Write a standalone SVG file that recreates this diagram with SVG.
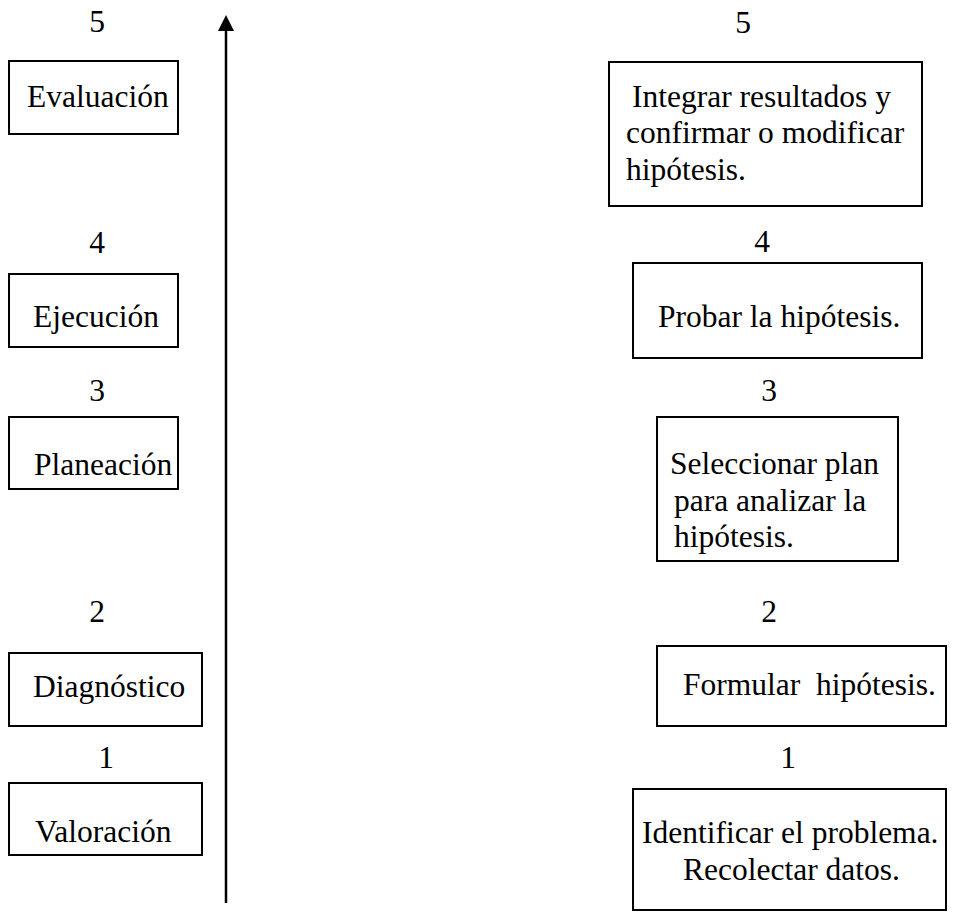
<svg xmlns="http://www.w3.org/2000/svg" width="960" height="923" viewBox="0 0 960 923">
<style>
text{font-family:"Liberation Serif","Times New Roman",serif;font-size:31.5px;fill:#000}
.n{text-anchor:middle}
rect{fill:#fff;stroke:#000;stroke-width:2}
.ax{stroke:#000;stroke-width:2.5;fill:none}
</style>
<rect x="0" y="0" width="960" height="923" style="stroke:none"/>
<g id="connectors">
<line class="ax" x1="226" y1="903" x2="226" y2="28"/>
<polygon points="226,15 218,31 234,31" fill="#000"/>
</g>
<g id="left-5"><text class="n" x="97" y="32">5</text><rect x="9" y="61" width="169" height="73"/><text x="27" y="107">Evaluación</text></g>
<g id="left-4"><text class="n" x="97" y="253">4</text><rect x="9" y="274" width="169" height="73"/><text x="33" y="327">Ejecución</text></g>
<g id="left-3"><text class="n" x="97" y="401">3</text><rect x="9" y="417" width="169" height="72"/><text x="34" y="475">Planeación</text></g>
<g id="left-2"><text class="n" x="97" y="622">2</text><rect x="9" y="653" width="193" height="73"/><text x="33" y="697">Diagnóstico</text></g>
<g id="left-1"><text class="n" x="106" y="768">1</text><rect x="9" y="783" width="193" height="72"/><text x="35" y="842">Valoración</text></g>
<g id="right-5"><text class="n" x="743" y="33">5</text><rect x="609" y="62" width="313" height="144"/><text x="632" y="107">Integrar resultados y</text><text x="626" y="143">confirmar o modificar</text><text x="626" y="180">hipótesis.</text></g>
<g id="right-4"><text class="n" x="762" y="252">4</text><rect x="633" y="263" width="289" height="95"/><text x="658" y="327">Probar la hipótesis.</text></g>
<g id="right-3"><text class="n" x="769" y="401">3</text><rect x="657" y="417" width="241" height="144"/><text x="670" y="474">Seleccionar plan</text><text x="674" y="511">para analizar la</text><text x="674" y="547">hipótesis.</text></g>
<g id="right-2"><text class="n" x="769" y="622">2</text><rect x="657" y="646" width="289" height="80"/><text x="683" y="695" xml:space="preserve">Formular  hipótesis.</text></g>
<g id="right-1"><text class="n" x="788" y="768">1</text><rect x="633" y="789" width="313" height="121"/><text x="642" y="843">Identificar el problema.</text><text x="683" y="880">Recolectar datos.</text></g>
</svg>
